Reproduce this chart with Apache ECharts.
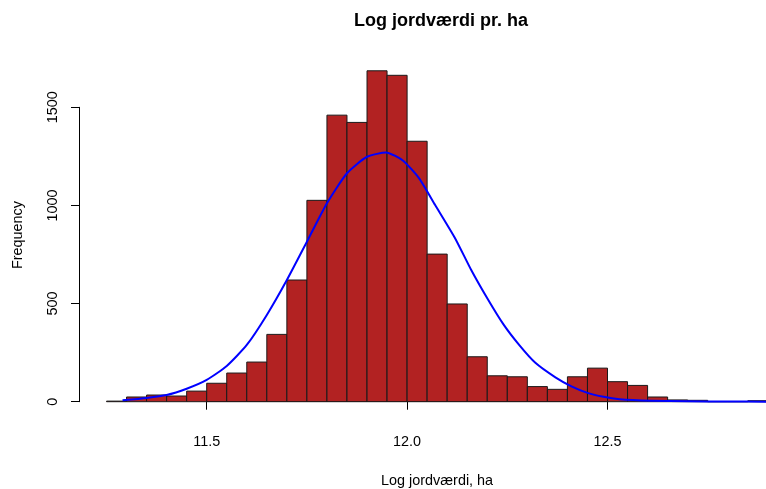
<!DOCTYPE html>
<html>
<head>
<meta charset="utf-8">
<title>Log jordværdi pr. ha</title>
<script src="https://cdn.jsdelivr.net/npm/echarts@6/dist/echarts.min.js"></script>
<style>
  html, body { margin: 0; padding: 0; background: #ffffff; }
  #chart { width: 766px; height: 489px; }
</style>
</head>
<body>
<div id="chart"></div>
<script>
// Histogram bins of log land value per hectare (bin width 0.05)
const binStarts = [
  11.25, 11.30, 11.35, 11.40, 11.45, 11.50, 11.55, 11.60, 11.65, 11.70,
  11.75, 11.80, 11.85, 11.90, 11.95, 12.00, 12.05, 12.10, 12.15, 12.20,
  12.25, 12.30, 12.35, 12.40, 12.45, 12.50, 12.55, 12.60, 12.65, 12.70,
  12.75, 12.80, 12.85
];
const binWidth = 0.05;
const frequencies = [
  3, 24, 34, 29, 54, 94, 146, 202, 343, 620,
  1026, 1460, 1423, 1686, 1663, 1327, 752, 498, 229, 132,
  127, 77, 63, 127, 171, 102, 83, 24, 9, 7,
  0, 0, 5
];

// Fitted normal curve, scaled to counts
const curveX = [
  11.29, 11.35, 11.40, 11.45, 11.50, 11.55, 11.60, 11.65, 11.70, 11.75,
  11.80, 11.85, 11.90, 11.95, 11.99, 12.03, 12.07, 12.12, 12.16, 12.20,
  12.24, 12.28, 12.32, 12.37, 12.41, 12.45, 12.49, 12.53, 12.61, 12.70,
  12.80, 12.90
];
const curveY = [
  7, 19, 34, 66, 111, 182, 289, 442, 620, 815,
  1011, 1164, 1248, 1269, 1228, 1138, 1002, 832, 671, 527,
  395, 288, 198, 124, 78, 45, 25, 13, 5, 2,
  1, 0
];

// Axis ticks
const xTicks = [11.5, 12.0, 12.5];
const yTicks = [0, 500, 1000, 1500];

const FONT = '"Liberation Sans", Arial, sans-serif';

const histData = binStarts.map((s, i) => [s, s + binWidth, frequencies[i]]);
const curveData = curveX.map((x, i) => [x, curveY[i]]);

const chart = echarts.init(document.getElementById('chart'), null, { renderer: 'canvas' });

chart.setOption({
  backgroundColor: '#ffffff',
  animation: false,
  title: {
    text: 'Log jordværdi pr. ha',
    left: 436,
    top: 7,
    textAlign: 'center',
    textStyle: { fontFamily: FONT, fontWeight: 'bold', fontSize: 18, color: '#000' }
  },
  grid: {
    left: 206.7, right: 158.5, top: 107.3, bottom: 87.3,
    containLabel: false,
    outerBoundsMode: 'none'
  },
  xAxis: {
    type: 'value',
    min: xTicks[0],
    max: xTicks[xTicks.length - 1],
    interval: xTicks[1] - xTicks[0],
    offset: 13.3,
    name: 'Log jordværdi, ha',
    nameLocation: 'middle',
    nameGap: 59,
    nameTextStyle: { fontFamily: FONT, fontSize: 14.4, color: '#000', padding: [0, 0, 0, 60] },
    axisLine: { show: true, lineStyle: { color: '#000', width: 1 } },
    axisTick: { show: true, length: 8, lineStyle: { color: '#000' } },
    axisLabel: {
      margin: 20,
      fontFamily: FONT, fontSize: 14.4, color: '#000',
      formatter: v => v.toFixed(1)
    },
    splitLine: { show: false }
  },
  yAxis: {
    type: 'value',
    min: yTicks[0],
    max: yTicks[yTicks.length - 1],
    interval: yTicks[1] - yTicks[0],
    offset: 127.7,
    name: 'Frequency',
    nameLocation: 'middle',
    nameRotate: 90,
    nameGap: 54,
    nameTextStyle: { fontFamily: FONT, fontSize: 14.4, color: '#000', padding: [0, 0, 0, 39] },
    axisLine: { show: true, lineStyle: { color: '#000', width: 1 } },
    axisTick: { show: true, length: 8, lineStyle: { color: '#000' } },
    axisLabel: {
      rotate: 90,
      margin: 19,
      fontFamily: FONT, fontSize: 14.4, color: '#000',
      formatter: v => String(v)
    },
    splitLine: { show: false }
  },
  series: [
    {
      type: 'custom',
      name: 'hist',
      clip: false,
      data: histData,
      encode: { x: [0, 1], y: 2 },
      renderItem: function (params, api) {
        const p0 = api.coord([api.value(0), 0]);
        const p1 = api.coord([api.value(1), api.value(2)]);
        return {
          type: 'rect',
          shape: { x: p0[0], y: p1[1], width: p1[0] - p0[0], height: p0[1] - p1[1] },
          style: { fill: '#B22222', stroke: '#1a1a1a', lineWidth: 1 }
        };
      },
      z: 2
    },
    {
      // Normal curve as one polyline through all points (kept unclipped so it
      // runs past the labelled axis range like the bars do)
      type: 'custom',
      name: 'normal',
      clip: false,
      data: curveData,
      encode: { x: 0, y: 1 },
      renderItem: function (params, api) {
        if (params.dataIndex !== 0) return null;
        const pts = curveData.map(d => api.coord(d));
        return {
          type: 'polyline',
          shape: { points: pts, smooth: 0.2 },
          style: { fill: null, stroke: '#0000FF', lineWidth: 2 }
        };
      },
      z: 3
    }
  ]
});
</script>
</body>
</html>
